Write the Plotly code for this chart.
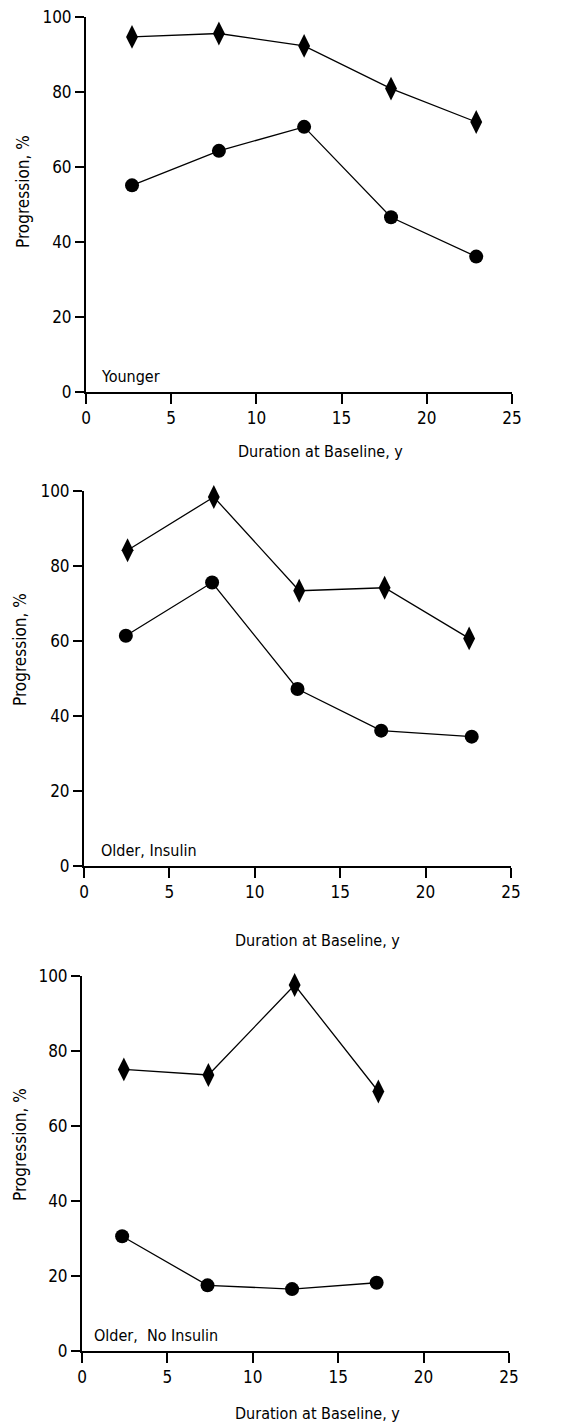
import plotly.graph_objects as go

W, H = 571, 1427
FONT = "DejaVu Sans Condensed, Liberation Sans Narrow, Arial Narrow, sans-serif"

# Panel 1: Younger
p1_dia_x = [2.7, 7.8, 12.8, 17.9, 22.9]
p1_dia_y = [94.7, 95.6, 92.3, 80.9, 72.0]
p1_cir_x = [2.7, 7.8, 12.8, 17.9, 22.9]
p1_cir_y = [55.1, 64.3, 70.7, 46.6, 36.1]

# Panel 2: Older, Insulin
p2_dia_x = [2.55, 7.6, 12.6, 17.6, 22.55]
p2_dia_y = [84.2, 98.4, 73.4, 74.2, 60.7]
p2_cir_x = [2.45, 7.5, 12.5, 17.4, 22.7]
p2_cir_y = [61.4, 75.6, 47.2, 36.1, 34.5]

# Panel 3: Older, No Insulin
p3_dia_x = [2.45, 7.4, 12.45, 17.35]
p3_dia_y = [75.1, 73.6, 97.6, 69.2]
p3_cir_x = [2.35, 7.35, 12.3, 17.25]
p3_cir_y = [30.6, 17.5, 16.5, 18.2]

panel_labels = ["Younger", "Older, Insulin", "Older,  No Insulin"]
x_ticks = [0, 5, 10, 15, 20, 25]
y_ticks = [0, 20, 40, 60, 80, 100]
x_title = "Duration at Baseline, y"
y_title = "Progression, %"

# pixel boxes of the plot areas (left, right, top, bottom)
boxes = [(86, 512, 17, 392), (84, 511, 491, 866), (82, 509, 976, 1351)]
ytitle_pos = [(23, 192), (20, 650), (20, 1145)]
xtitle_pos = [(320, 451), (317, 940), (317, 1413)]
label_pos = [(99, 377), (99, 850), (92, 1335)]

series = [
    (p1_dia_x, p1_dia_y, p1_cir_x, p1_cir_y),
    (p2_dia_x, p2_dia_y, p2_cir_x, p2_cir_y),
    (p3_dia_x, p3_dia_y, p3_cir_x, p3_cir_y),
]

fig = go.Figure()
layout_axes = {}
annotations = []
for i, (box, data) in enumerate(zip(boxes, series)):
    n = "" if i == 0 else str(i + 1)
    xa, ya = "x" + n, "y" + n
    l, r, t, b = box
    dx, dy, cx, cy = data
    fig.add_trace(go.Scatter(
        x=dx, y=dy, xaxis=xa, yaxis=ya, mode="lines+markers",
        line=dict(color="black", width=1.3),
        marker=dict(symbol="diamond-tall", size=17, color="black"),
        cliponaxis=False, showlegend=False))
    fig.add_trace(go.Scatter(
        x=cx, y=cy, xaxis=xa, yaxis=ya, mode="lines+markers",
        line=dict(color="black", width=1.3),
        marker=dict(symbol="circle", size=14, color="black"),
        cliponaxis=False, showlegend=False))
    common = dict(showgrid=False, zeroline=False, showline=True,
                  linecolor="black", linewidth=2, ticks="outside",
                  tickcolor="black", tickwidth=2, automargin=False,
                  tickfont=dict(family=FONT, size=17, color="black"))
    layout_axes["xaxis" + n] = dict(
        common, domain=[l / W, r / W], range=[0, 25], tickvals=x_ticks,
        ticklen=10, anchor=ya)
    layout_axes["yaxis" + n] = dict(
        common, domain=[1 - b / H, 1 - t / H], range=[0, 100],
        tickvals=y_ticks, ticklen=9, anchor=xa)
    yx, yy = ytitle_pos[i]
    annotations.append(dict(
        text=y_title, x=yx / W, y=1 - yy / H, xref="paper", yref="paper",
        textangle=-90, showarrow=False, xanchor="center", yanchor="middle",
        font=dict(family=FONT, size=17, color="black")))
    xx, xy = xtitle_pos[i]
    annotations.append(dict(
        text=x_title, x=xx / W, y=1 - xy / H, xref="paper", yref="paper",
        showarrow=False, xanchor="center", yanchor="middle",
        font=dict(family=FONT, size=16, color="black")))
    lx, ly = label_pos[i]
    annotations.append(dict(
        text=panel_labels[i], x=lx / W, y=1 - ly / H, xref="paper", yref="paper",
        showarrow=False, xanchor="left", yanchor="middle",
        font=dict(family=FONT, size=16, color="black")))

fig.update_layout(
    width=W, height=H, margin=dict(l=0, r=0, t=0, b=0),
    paper_bgcolor="white", plot_bgcolor="white",
    annotations=annotations, **layout_axes)

fig.write_html("out.html")
